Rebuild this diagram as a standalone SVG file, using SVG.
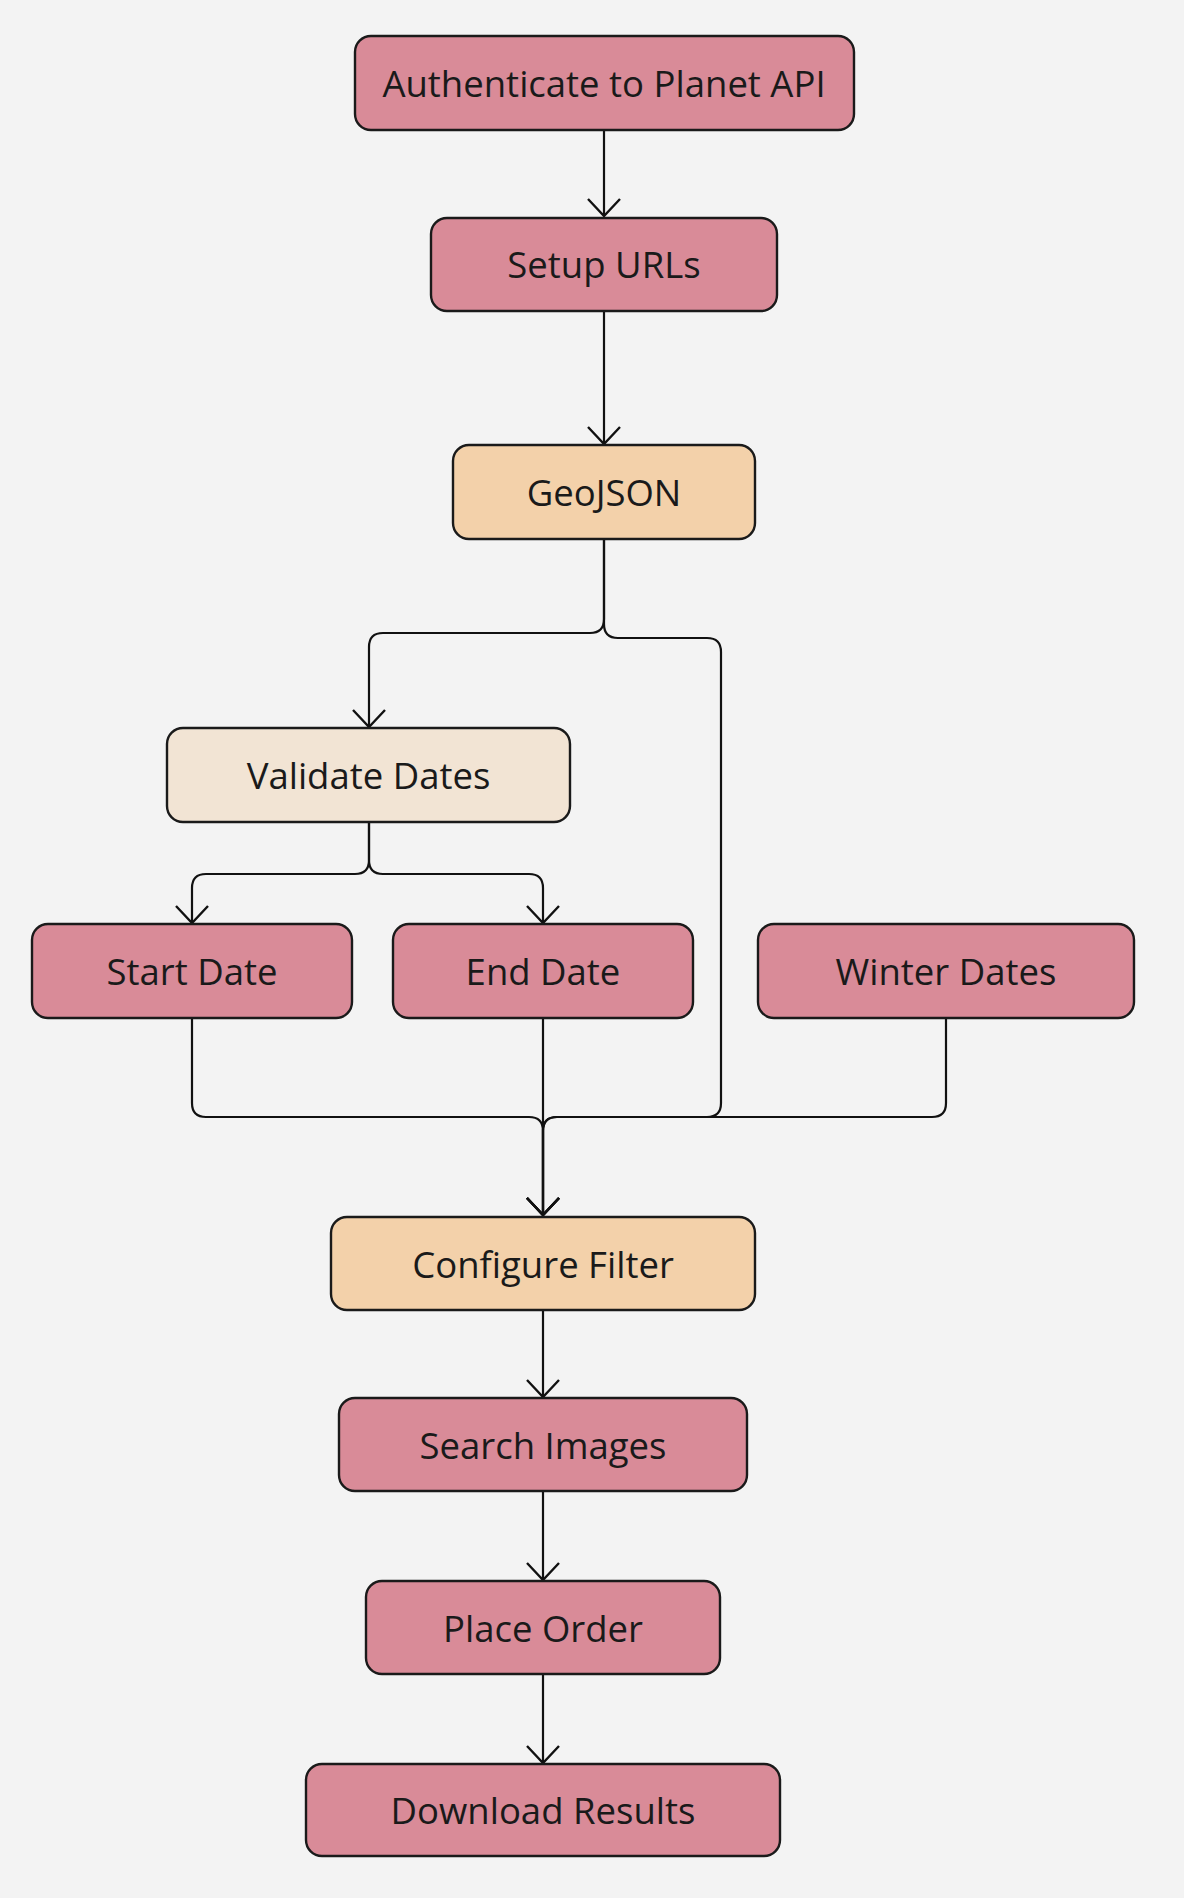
<svg xmlns="http://www.w3.org/2000/svg" width="1184" height="1898" viewBox="0 0 1184 1898">
<defs>
<style>
.box{stroke:#1a1a1a;stroke-width:2.4}
.pink{fill:#d98b98}
.peach{fill:#f3d1aa}
.light{fill:#f2e4d4}
.lbl{font-family:"Open Sans","Noto Sans",sans-serif;font-size:36.5px;fill:#1a1a1a;text-anchor:middle}
.edge{fill:none;stroke:#111;stroke-width:2.2}
</style>
<marker id="arr" markerUnits="userSpaceOnUse" markerWidth="22" markerHeight="38" viewBox="0 0 22 38" refX="19" refY="19" orient="auto">
<path d="M2,3 L19,19 L2,35" fill="none" stroke="#111" stroke-width="2.4"/>
</marker>
</defs>
<rect width="1184" height="1898" fill="#f3f3f3"/>
<g id="connectors">
<path class="edge" d="M604,130 V216" marker-end="url(#arr)"/>
<path class="edge" d="M604,311 V444" marker-end="url(#arr)"/>
<path class="edge" d="M604,539 V619 Q604,633 590,633 H383 Q369,633 369,647 V727" marker-end="url(#arr)"/>
<path class="edge" d="M604,539 V624 Q604,638 618,638 H707 Q721,638 721,652 V1103 Q721,1117 707,1117 H557 Q543,1117 543,1131 V1215" marker-end="url(#arr)"/>
<path class="edge" d="M369,822 V860 Q369,874 355,874 H206 Q192,874 192,888 V923" marker-end="url(#arr)"/>
<path class="edge" d="M369,822 V860 Q369,874 383,874 H529 Q543,874 543,888 V923" marker-end="url(#arr)"/>
<path class="edge" d="M192,1018 V1103 Q192,1117 206,1117 H529 Q543,1117 543,1131 V1215" marker-end="url(#arr)"/>
<path class="edge" d="M543,1018 V1215" marker-end="url(#arr)"/>
<path class="edge" d="M946,1018 V1103 Q946,1117 932,1117 H557 Q543,1117 543,1131 V1215" marker-end="url(#arr)"/>
<path class="edge" d="M543,1310 V1397" marker-end="url(#arr)"/>
<path class="edge" d="M543,1491 V1580" marker-end="url(#arr)"/>
<path class="edge" d="M543,1674 V1763" marker-end="url(#arr)"/>
</g>
<g id="n-auth"><rect class="box pink" x="355" y="36" width="499" height="94" rx="16"/><text class="lbl" x="604" y="96.5">Authenticate to Planet API</text></g>
<g id="n-setup"><rect class="box pink" x="431" y="218" width="346" height="93" rx="16"/><text class="lbl" x="604" y="278">Setup URLs</text></g>
<g id="n-geojson"><rect class="box peach" x="453" y="445" width="302" height="94" rx="16"/><text class="lbl" x="604" y="505.5">GeoJSON</text></g>
<g id="n-validate"><rect class="box light" x="167" y="728" width="403" height="94" rx="16"/><text class="lbl" x="368.5" y="788.5">Validate Dates</text></g>
<g id="n-start"><rect class="box pink" x="32" y="924" width="320" height="94" rx="16"/><text class="lbl" x="192" y="984.5">Start Date</text></g>
<g id="n-end"><rect class="box pink" x="393" y="924" width="300" height="94" rx="16"/><text class="lbl" x="543" y="984.5">End Date</text></g>
<g id="n-winter"><rect class="box pink" x="758" y="924" width="376" height="94" rx="16"/><text class="lbl" x="946" y="984.5">Winter Dates</text></g>
<g id="n-filter"><rect class="box peach" x="331" y="1217" width="424" height="93" rx="16"/><text class="lbl" x="543" y="1277.5">Configure Filter</text></g>
<g id="n-search"><rect class="box pink" x="339" y="1398" width="408" height="93" rx="16"/><text class="lbl" x="543" y="1458.5">Search Images</text></g>
<g id="n-order"><rect class="box pink" x="366" y="1581" width="354" height="93" rx="16"/><text class="lbl" x="543" y="1641.5">Place Order</text></g>
<g id="n-download"><rect class="box pink" x="306" y="1764" width="474" height="92" rx="16"/><text class="lbl" x="543" y="1823.5">Download Results</text></g>
</svg>
